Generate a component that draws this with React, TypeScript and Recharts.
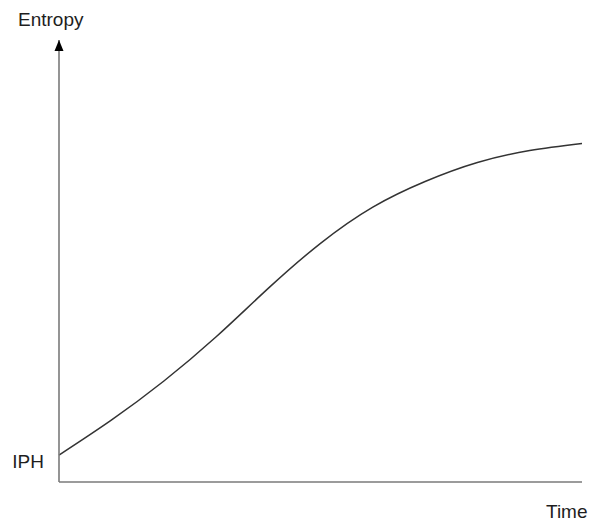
import React from "react";
import { LineChart, Line, XAxis, YAxis, ReferenceDot, Label } from "recharts";

const timeValues = [0, 10, 20, 30, 40, 50, 60, 70, 80, 90, 100];
const entropyValues = [6.1, 14.0, 22.8, 32.8, 43.8, 54.0, 62.2, 68.0, 72.3, 75.0, 76.6];
const iphValue = 4.6;
const xLabel = "Time";
const yLabel = "Entropy";
const iphLabel = "IPH";

const data = timeValues.map((t, i) => ({ t, e: entropyValues[i] }));

const FONT = "'Liberation Sans', Arial, Helvetica, sans-serif";
const AXIS_COLOR = "#7a7a7a";
const TEXT_COLOR = "#1e1e1e";
const FONT_SIZE = 19;

const IphTick = (props: any) => {
  const { y, payload } = props;
  return (
    <text x={44} y={y + 6} textAnchor="end" fontSize={FONT_SIZE} fontFamily={FONT} fill={TEXT_COLOR}>
      {payload && payload.value === iphValue ? iphLabel : ""}
    </text>
  );
};

const Arrow = (props: any) => {
  const { cx, cy } = props;
  if (cx == null || cy == null) return null;
  return <path d={`M${cx},${cy} L${cx - 4.5},${cy + 11} L${cx + 4.5},${cy + 11} Z`} fill="#000" />;
};

export default function App() {
  return (
    <div style={{ position: "fixed", left: 0, top: 0, width: 590, height: 522, background: "#fff" }}>
      <LineChart width={590} height={522} data={data} margin={{ top: 40, right: 8, bottom: 39, left: 58 }}>
        <XAxis
          dataKey="t"
          type="number"
          domain={[0, 100]}
          height={1}
          tick={false}
          tickLine={false}
          axisLine={{ stroke: AXIS_COLOR, strokeWidth: 1.6 }}
        >
          <Label
            content={() => (
              <text x={546} y={518} fontSize={FONT_SIZE} fontFamily={FONT} fill={TEXT_COLOR}>
                {xLabel}
              </text>
            )}
          />
        </XAxis>
        <YAxis
          type="number"
          domain={[0, 100]}
          width={1}
          ticks={[iphValue]}
          tick={<IphTick />}
          tickLine={false}
          axisLine={{ stroke: AXIS_COLOR, strokeWidth: 1.6 }}
        >
          <Label
            content={() => (
              <text x={18} y={26} fontSize={FONT_SIZE} fontFamily={FONT} fill={TEXT_COLOR}>
                {yLabel}
              </text>
            )}
          />
        </YAxis>
        <ReferenceDot x={0} y={100} r={0} shape={<Arrow />} ifOverflow="visible" />
        <Line
          type="natural"
          dataKey="e"
          stroke="#333"
          strokeWidth={1.5}
          dot={false}
          isAnimationActive={false}
        />
      </LineChart>
    </div>
  );
}
